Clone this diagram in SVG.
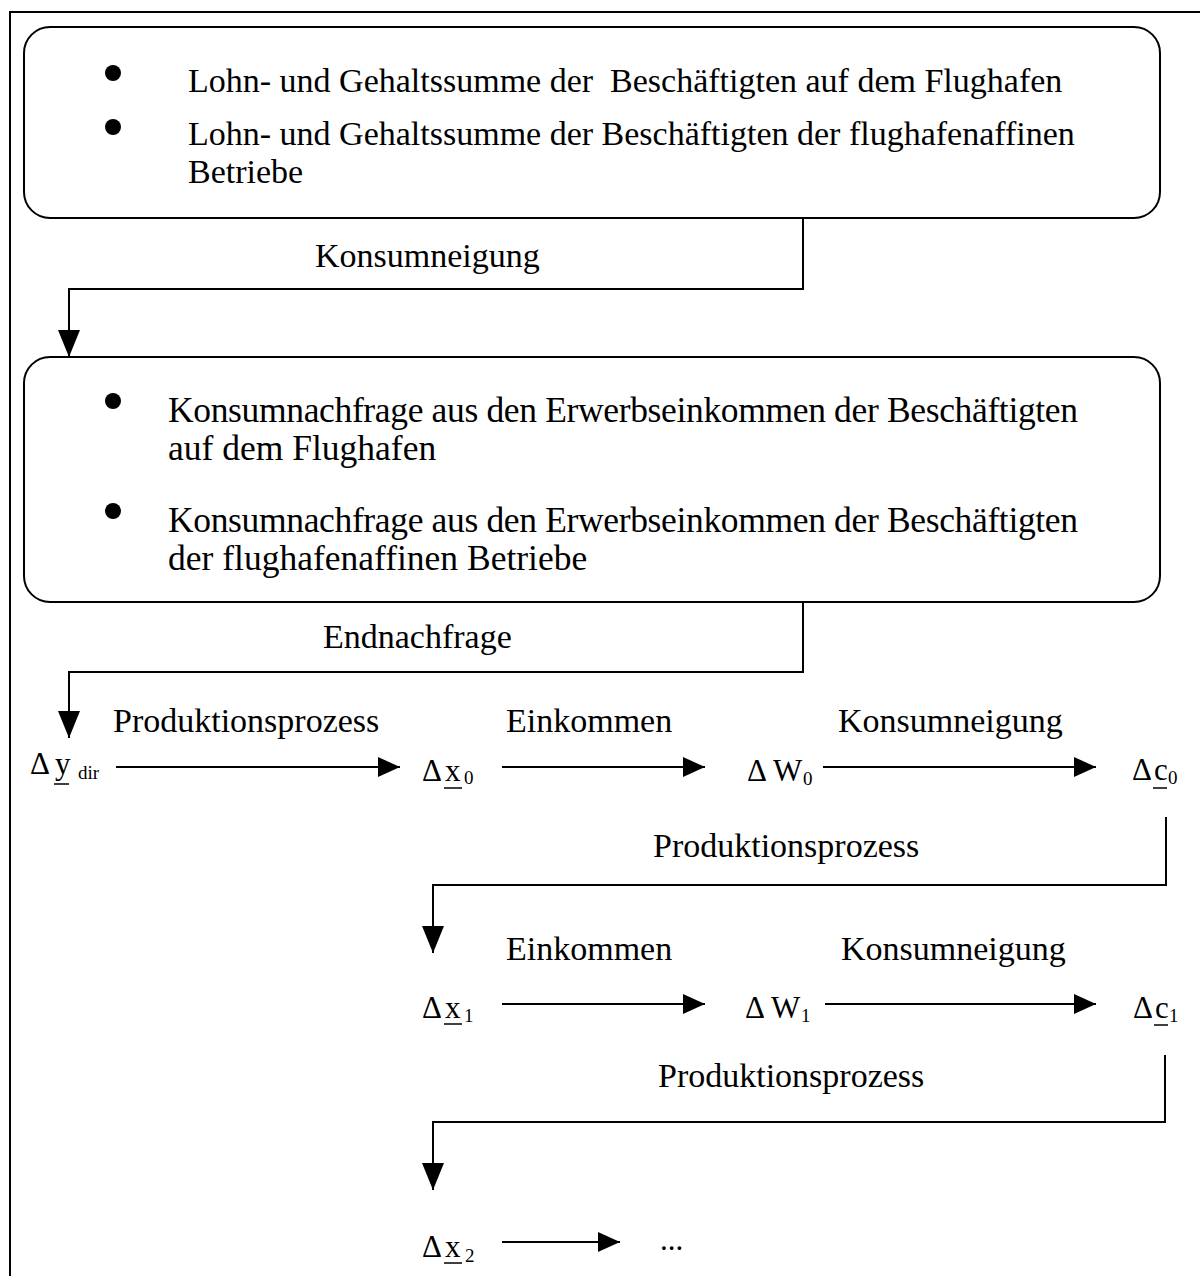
<svg xmlns="http://www.w3.org/2000/svg" width="1200" height="1276" viewBox="0 0 1200 1276">
<defs>
<style>
text{font-family:"Liberation Serif","Times New Roman",serif;fill:#000}
.t{font-size:34px}
.b2{font-size:35.5px}
.m{font-size:31px}
.s{font-size:19px}
.box{fill:#fff;stroke:#000;stroke-width:2}
.ln{fill:none;stroke:#000;stroke-width:2}
.ul{stroke:#000;stroke-width:1.5}
</style>
<marker id="ah" viewBox="0 0 22 20" refX="22" refY="10" markerWidth="22" markerHeight="20" markerUnits="userSpaceOnUse" orient="auto">
<path d="M0,0 L22,10 L0,20 Z" fill="#000"/>
</marker>
<marker id="av" viewBox="0 0 27 22" refX="27" refY="11" markerWidth="27" markerHeight="22" markerUnits="userSpaceOnUse" orient="auto">
<path d="M0,0 L27,11 L0,22 Z" fill="#000"/>
</marker>
</defs>
<rect x="0" y="0" width="1200" height="1276" fill="#fff"/>
<rect id="frame" x="10" y="12" width="1210" height="1300" fill="none" stroke="#000" stroke-width="2"/>

<g id="box1">
<rect class="box" x="24" y="27" width="1136" height="191" rx="26"/>
<circle cx="113" cy="73" r="8"/>
<circle cx="113" cy="127" r="8"/>
<text class="t" x="188" y="92" xml:space="preserve">Lohn- und Gehaltssumme der  Beschäftigten auf dem Flughafen</text>
<text class="t" x="188" y="145">Lohn- und Gehaltssumme der Beschäftigten der flughafenaffinen</text>
<text class="t" x="188" y="183">Betriebe</text>
</g>

<g id="box2">
<rect class="box" x="24" y="357" width="1136" height="245" rx="26"/>
<circle cx="113" cy="401" r="8"/>
<circle cx="113" cy="511" r="8"/>
<text class="b2" x="168" y="422" textLength="910">Konsumnachfrage aus den Erwerbseinkommen der Beschäftigten</text>
<text class="b2" x="168" y="460">auf dem Flughafen</text>
<text class="b2" x="168" y="532" textLength="910">Konsumnachfrage aus den Erwerbseinkommen der Beschäftigten</text>
<text class="b2" x="168" y="570">der flughafenaffinen Betriebe</text>
</g>

<g id="n_ydir">
<text class="m" x="30" y="774">Δ</text>
<text class="m" x="55" y="774">y</text>
<line class="ul" x1="54" y1="784" x2="69" y2="784"/>
<text class="s" x="78" y="779">dir</text>
</g>
<g id="n_x0">
<text class="m" x="422" y="781">Δ</text>
<text class="m" x="445" y="781">x</text>
<line class="ul" x1="444" y1="788" x2="462" y2="788"/>
<text class="s" x="464" y="784">0</text>
</g>
<g id="n_W0">
<text class="m" x="747" y="781">Δ W</text>
<text class="s" x="803" y="785">0</text>
</g>
<g id="n_c0">
<text class="m" x="1132" y="780">Δ</text>
<text class="m" x="1154" y="780">c</text>
<line class="ul" x1="1153" y1="788" x2="1167" y2="788"/>
<text class="s" x="1168" y="784">0</text>
</g>
<g id="n_x1">
<text class="m" x="422" y="1018">Δ</text>
<text class="m" x="445" y="1018">x</text>
<line class="ul" x1="444" y1="1024" x2="462" y2="1024"/>
<text class="s" x="464" y="1022">1</text>
</g>
<g id="n_W1">
<text class="m" x="745" y="1018">Δ W</text>
<text class="s" x="801" y="1022">1</text>
</g>
<g id="n_c1">
<text class="m" x="1133" y="1018">Δ</text>
<text class="m" x="1155" y="1018">c</text>
<line class="ul" x1="1154" y1="1025" x2="1168" y2="1025"/>
<text class="s" x="1169" y="1022">1</text>
</g>
<g id="n_x2">
<text class="m" x="422" y="1257">Δ</text>
<text class="m" x="445" y="1257">x</text>
<line class="ul" x1="444" y1="1263" x2="462" y2="1263"/>
<text class="s" x="465" y="1262">2</text>
</g>
<g id="n_dots">
<text class="m" x="660" y="1250">...</text>
</g>

<g id="connectors">
<path class="ln" d="M803,219 V289 H69 V357" marker-end="url(#av)"/>
<path class="ln" d="M803,602 V672 H69 V738" marker-end="url(#av)"/>
<path class="ln" d="M116,767 H400" marker-end="url(#ah)"/>
<path class="ln" d="M502,767 H705" marker-end="url(#ah)"/>
<path class="ln" d="M823,767 H1096" marker-end="url(#ah)"/>
<path class="ln" d="M1166,817 V885 H433 V953" marker-end="url(#av)"/>
<path class="ln" d="M502,1004 H705" marker-end="url(#ah)"/>
<path class="ln" d="M825,1004 H1096" marker-end="url(#ah)"/>
<path class="ln" d="M1165,1055 V1122 H433 V1190" marker-end="url(#av)"/>
<path class="ln" d="M502,1242 H620" marker-end="url(#ah)"/>
</g>
<g id="labels">
<text class="t" x="315" y="267">Konsumneigung</text>
<text class="t" x="323" y="648">Endnachfrage</text>
<text class="t" x="113" y="732">Produktionsprozess</text>
<text class="t" x="506" y="732">Einkommen</text>
<text class="t" x="838" y="732">Konsumneigung</text>
<text class="t" x="653" y="857">Produktionsprozess</text>
<text class="t" x="506" y="960">Einkommen</text>
<text class="t" x="841" y="960">Konsumneigung</text>
<text class="t" x="658" y="1087">Produktionsprozess</text>
</g>
</svg>
